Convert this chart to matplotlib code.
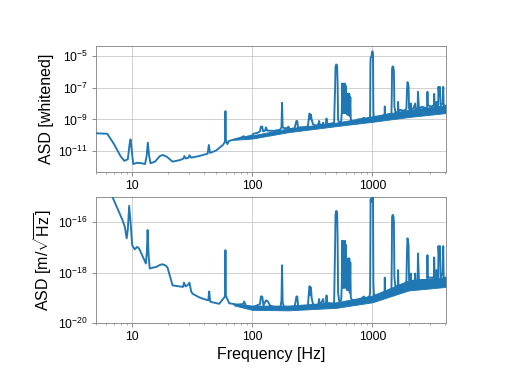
import numpy as np
import matplotlib
matplotlib.use("Agg")
import matplotlib.pyplot as plt
from matplotlib.ticker import NullLocator, LogLocator, NullFormatter

plt.rcParams['font.family'] = ['Liberation Sans', 'DejaVu Sans']
plt.rcParams['mathtext.fontset'] = 'custom'
plt.rcParams['mathtext.rm'] = 'Liberation Sans'
plt.rcParams['mathtext.it'] = 'Liberation Sans:italic'
plt.rcParams['mathtext.bf'] = 'Liberation Sans:bold'

# whitened ASD (top panel), log10 of the values
freq_top = [5, 6.2, 7.0, 8.0, 8.6, 9.2, 9.5, 9.7, 9.9, 10.2,
            11, 12, 12.8, 13.2, 13.5, 13.8, 14.2, 15.5, 17, 18,
            19.5, 21.7, 25, 26.8, 27.2, 28, 29.5, 30, 31, 36,
            42.5, 43.5, 44.5, 50, 57, 59.3, 59.8, 60.3, 62, 64,
            68.6, 80, 85, 86, 95, 100, 102, 110, 116, 118,
            121, 123, 128, 130, 133, 150, 170, 175, 177, 179,
            185, 195, 200, 205, 225, 233, 237, 240, 260, 290,
            296, 300, 304, 308, 312, 320, 340, 355, 360, 365,
            380, 390, 395, 410, 415, 420, 460, 480, 489, 493,
            500, 508, 513, 518, 530, 550, 556, 560, 565, 570,
            575, 580, 585, 590, 596, 602, 607, 612, 617, 622,
            627, 632, 637, 642, 648, 655, 661, 680, 731, 760,
            800, 850, 880, 944, 957, 962, 966, 975, 985, 995,
            1005, 1012, 1019, 1030, 1100, 1200, 1262, 1268, 1276, 1350,
            1400, 1440, 1450, 1458, 1475, 1495, 1510, 1525, 1560, 1630,
            1637, 1648, 1700, 1800, 1900, 1920, 1940, 1960, 2000, 2020,
            2040, 2080, 2090, 2100, 2200, 2270, 2290, 2380, 2395, 2410,
            2440, 2600, 2800, 2860, 2873, 2890, 3100, 3250, 3268, 3300,
            3400, 3418, 3440, 3530, 3548, 3600, 3650, 3700, 3850, 3888,
            3920, 4096]
log_asd_top = [-9.87, -9.9, -10.5, -11.3, -11.6, -11.5, -10.6, -10.25, -10.9, -11.8,
               -11.72, -11.75, -11.8, -11.3, -10.46, -11.2, -11.75, -11.65, -11.3, -11.23,
               -11.35, -11.65, -11.55, -11.45, -11.3, -11.45, -11.4, -11.25, -11.4, -11.3,
               -11.15, -10.6, -11.1, -10.95, -10.6, -10.4, -8.48, -10.3, -10.55, -10.35,
               -10.29, -10.15, -10.05, -10.12, -10.05, -10.0, -9.9, -9.85, -9.75, -9.45,
               -9.45, -9.75, -9.7, -9.5, -9.7, -9.72, -9.65, -9.5, -7.96, -9.5,
               -9.55, -9.55, -9.45, -9.62, -9.55, -9.1, -9.1, -9.5, -9.5, -9.45,
               -8.9, -8.63, -9.0, -8.7, -9.0, -9.3, -9.4, -9.3, -9.1, -9.35,
               -9.35, -9.2, -9.4, -9.3, -8.94, -9.3, -9.25, -9.2, -7.06, -5.7,
               -5.55, -5.6, -6.6, -9.0, -9.2, -9.15, -8.5, -6.75, -8.6, -6.75,
               -8.6, -6.8, -8.6, -6.75, -8.6, -6.9, -8.6, -7.4, -8.7, -7.5,
               -8.7, -7.37, -8.7, -7.4, -8.8, -7.6, -9.0, -9.1, -9.1, -9.0,
               -9.0, -8.9, -9.0, -8.95, -8.8, -5.8, -5.15, -5.1, -5.0, -4.75,
               -4.73, -4.9, -8.5, -8.9, -8.85, -8.8, -8.7, -8.19, -8.7, -8.7,
               -8.65, -8.7, -7.5, -5.8, -5.67, -5.7, -6.0, -8.2, -8.6, -8.5,
               -7.9, -8.5, -8.4, -8.45, -8.4, -8.3, -7.2, -6.66, -6.9, -8.3,
               -8.4, -8.3, -8.0, -8.35, -8.3, -8.0, -8.35, -8.3, -7.27, -7.6,
               -8.3, -8.2, -8.3, -8.2, -7.27, -8.1, -8.2, -8.1, -7.4, -8.2,
               -8.2, -7.9, -8.2, -8.1, -6.96, -7.5, -6.96, -8.1, -8.0, -6.96,
               -8.1, -8.15]

# displacement ASD (bottom panel), log10 of the values
freq_bot = [5, 6.85, 8.0, 8.3, 8.7, 9.0, 9.2, 9.44, 9.7, 10.0,
            10.5, 11.0, 11.4, 12.3, 13.0, 13.25, 13.45, 13.7, 14.0, 15.0,
            15.8, 17.0, 17.9, 19.0, 19.7, 21.7, 25, 26.5, 27, 27.8,
            29, 30, 31, 31.8, 36, 41.2, 43, 43.8, 44.6, 46.6,
            53, 57, 59.3, 59.8, 60.3, 61, 64.3, 75, 84, 85.7,
            88, 100, 110, 116, 118, 121, 124, 130, 135, 140,
            157, 172, 175, 177, 179, 185, 203, 225, 233, 237,
            241, 260, 290, 296, 300, 304, 308, 312, 320, 340,
            355, 360, 365, 390, 395, 410, 415, 420, 467, 480,
            489, 493, 500, 508, 513, 518, 530, 550, 556, 560,
            565, 570, 575, 580, 585, 590, 596, 602, 607, 612,
            617, 622, 627, 632, 637, 642, 648, 655, 661, 680,
            731, 800, 850, 880, 944, 957, 962, 966, 975, 985,
            995, 1005, 1012, 1019, 1030, 1100, 1219, 1262, 1268, 1276,
            1400, 1440, 1450, 1458, 1475, 1495, 1510, 1525, 1560, 1630,
            1637, 1648, 1800, 1900, 1920, 1940, 1960, 2000, 2020, 2040,
            2080, 2090, 2100, 2260, 2270, 2290, 2380, 2395, 2410, 2440,
            2860, 2873, 2890, 3250, 3268, 3300, 3400, 3418, 3440, 3530,
            3548, 3600, 3650, 3700, 3850, 3888, 3920, 4096]
log_asd_bot = [-13.5, -15.0, -15.75, -15.91, -16.2, -16.64, -16.3, -15.35, -16.0, -16.91,
               -17.08, -16.98, -17.04, -17.38, -17.64, -17.2, -16.31, -17.3, -17.84, -17.8,
               -17.78, -17.7, -17.67, -17.72, -17.8, -18.51, -18.55, -18.57, -18.4, -18.55,
               -18.5, -18.4, -18.75, -18.84, -18.98, -19.08, -19.1, -18.75, -19.15, -19.18,
               -19.24, -19.05, -18.95, -17.11, -18.9, -18.98, -19.22, -19.27, -19.25, -19.15,
               -19.3, -19.38, -19.3, -19.25, -18.95, -18.95, -19.3, -19.1, -19.15, -19.3,
               -19.4, -19.35, -19.1, -17.71, -19.2, -19.4, -19.44, -19.4, -18.95, -18.95,
               -19.35, -19.4, -19.35, -18.8, -18.54, -18.9, -18.6, -19.0, -19.25, -19.31,
               -19.25, -19.05, -19.3, -19.05, -19.3, -19.25, -18.91, -19.2, -19.24, -19.2,
               -17.0, -15.7, -15.55, -15.6, -16.5, -18.8, -19.15, -19.1, -18.5, -16.74,
               -18.6, -16.74, -18.6, -16.8, -18.6, -16.74, -18.6, -16.9, -18.6, -17.44,
               -18.7, -17.5, -18.7, -17.44, -18.7, -17.44, -18.8, -17.6, -19.0, -19.1,
               -19.11, -19.05, -18.95, -19.05, -18.95, -18.8, -16.5, -15.1, -15.2, -15.0,
               -14.9, -14.9, -15.0, -18.4, -18.9, -18.9, -18.84, -18.8, -18.2, -18.8,
               -18.7, -18.7, -17.5, -15.8, -15.71, -15.75, -16.0, -18.2, -18.6, -18.5,
               -17.9, -18.5, -18.5, -18.45, -18.3, -17.2, -16.64, -16.9, -18.3, -18.4,
               -18.35, -18.04, -18.35, -18.3, -18.04, -18.35, -18.3, -17.24, -17.6, -18.3,
               -18.3, -17.31, -18.2, -18.2, -17.4, -18.2, -18.2, -17.9, -18.2, -18.2,
               -16.95, -17.5, -16.95, -18.2, -18.0, -16.95, -18.2, -18.2]

# spread of the noisy floor above ~70 Hz
band_freq = [70, 100, 200, 500, 1000, 2000, 4096]
band_top_lo = [-10.28, -10.2, -9.8, -9.42, -9.15, -8.85, -8.6]
band_top_hi = [-10.22, -10.0, -9.56, -9.2, -8.8, -8.4, -8.1]
band_bot_lo = [-19.3, -19.48, -19.5, -19.4, -19.18, -18.71, -18.57]
band_bot_hi = [-19.25, -19.31, -19.31, -19.18, -18.91, -18.31, -18.18]

x_ticks = [10, 100, 1000]
top_yticks = [1e-11, 1e-9, 1e-7, 1e-5]
bot_yticks = [1e-20, 1e-18, 1e-16]

color = '#1f77b4'

fig = plt.figure(figsize=(6.4, 4.8), dpi=80)
ax1 = fig.add_axes([0.1875, 0.552, 0.6835, 0.328])
ax2 = fig.add_axes([0.1875, 0.159, 0.6835, 0.328])

panels = [
    (ax1, freq_top, log_asd_top, band_top_lo, band_top_hi, top_yticks, (5e-13, 4e-5), 'ASD [whitened]'),
    (ax2, freq_bot, log_asd_bot, band_bot_lo, band_bot_hi, bot_yticks, (1e-20, 1e-15), r'ASD [m/$\sqrt{\mathrm{Hz}}$]'),
]

for ax, f, la, lo, hi, yt, ylim, ylabel in panels:
    ax.fill_between(band_freq, 10 ** np.array(lo), 10 ** np.array(hi),
                    color=color, linewidth=0.8, zorder=2)
    ax.plot(f, 10 ** np.array(la), color=color, linewidth=1.7, zorder=3)
    ax.set_xscale('log')
    ax.set_yscale('log')
    ax.set_xlim(5, 4096)
    ax.set_ylim(*ylim)
    ax.set_xticks(x_ticks)
    ax.set_xticklabels([str(t) for t in x_ticks])
    ax.xaxis.set_minor_locator(LogLocator(base=10, subs=np.arange(2, 10)))
    ax.xaxis.set_minor_formatter(NullFormatter())
    ax.set_yticks(yt)
    ax.yaxis.set_minor_locator(NullLocator())
    ax.tick_params(labelsize=11, colors='black')
    ax.tick_params(which='both', color='#808080')
    ax.grid(True, which='major', color='#cccccc', linewidth=0.8, zorder=0)
    ax.set_axisbelow(True)
    for s in ax.spines.values():
        s.set_color('#888888')
    ax.set_ylabel(ylabel, fontsize=14.4)

ax2.set_xlabel('Frequency [Hz]', fontsize=14.4)

fig.savefig('out.png', dpi=80)
